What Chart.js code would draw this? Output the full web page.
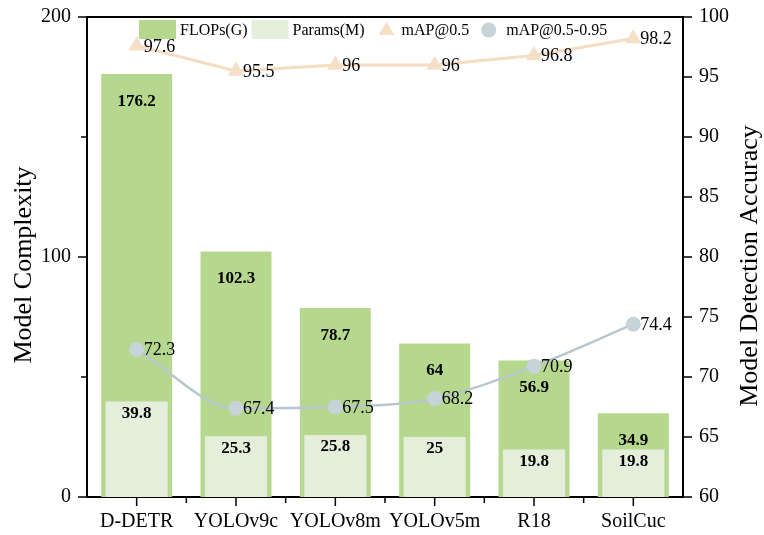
<!DOCTYPE html>
<html>
<head>
<meta charset="utf-8">
<script src="https://cdn.jsdelivr.net/npm/chart.js@4.4.1/dist/chart.umd.min.js"></script>
<style>
  html, body { margin: 0; padding: 0; background: #ffffff; }
  #wrap { width: 764px; height: 535px; }
</style>
</head>
<body>
<div id="wrap"><canvas id="c" width="764" height="535"></canvas></div>
<script>
// Model comparison: complexity (bars, left axis) and detection accuracy (lines, right axis)
const models = ['D-DETR', 'YOLOv9c', 'YOLOv8m', 'YOLOv5m', 'R18', 'SoilCuc'];
const flops = [176.2, 102.3, 78.7, 64, 56.9, 34.9];
const params = [39.8, 25.3, 25.8, 25, 19.8, 19.8];
const map50 = [97.6, 95.5, 96, 96, 96.8, 98.2];
const map5095 = [72.3, 67.4, 67.5, 68.2, 70.9, 74.4];
const complexityTicks = [0, 100, 200];
const complexityMinorTicks = [50, 150];
const accuracyTicks = [60, 65, 70, 75, 80, 85, 90, 95, 100];

const SERIF = "'Liberation Serif', 'Times New Roman', serif";
const INK = '#000000';

const decor = {
  id: 'decor',
  afterDatasetsDraw(chart) {
    const ctx = chart.ctx;
    ctx.save();
    ctx.fillStyle = INK;
    ctx.textBaseline = 'middle';
    // value labels inside the bars
    ctx.font = 'bold 17px ' + SERIF;
    ctx.textAlign = 'center';
    chart.data.datasets.forEach((ds, di) => {
      if (ds.type !== 'bar') return;
      const meta = chart.getDatasetMeta(di);
      const drop = ds.labelDrop;
      meta.data.forEach((el, i) => {
        ctx.fillText(String(ds.data[i]), el.x, el.y + drop);
      });
    });
    // value labels next to the line points
    ctx.font = '18px ' + SERIF;
    ctx.textAlign = 'left';
    chart.data.datasets.forEach((ds, di) => {
      if (ds.type !== 'line') return;
      const meta = chart.getDatasetMeta(di);
      meta.data.forEach((el, i) => {
        ctx.fillText(String(ds.data[i]), el.x + 7, el.y + 1);
      });
    });
    ctx.restore();
  },
  afterDraw(chart) {
    const ctx = chart.ctx;
    const a = chart.chartArea;
    const y = chart.scales.y, y1 = chart.scales.y1, x = chart.scales.x;
    ctx.save();
    ctx.strokeStyle = INK;
    ctx.lineWidth = 2;
    // top frame line
    ctx.beginPath();
    ctx.moveTo(a.left - 1, a.top);
    ctx.lineTo(a.right + 1, a.top);
    ctx.stroke();
    // tick marks
    ctx.lineWidth = 1.5;
    ctx.beginPath();
    complexityTicks.forEach(v => { const p = y.getPixelForValue(v); ctx.moveTo(a.left - 9, p); ctx.lineTo(a.left, p); });
    complexityMinorTicks.forEach(v => { const p = y.getPixelForValue(v); ctx.moveTo(a.left - 6, p); ctx.lineTo(a.left, p); });
    accuracyTicks.forEach(v => { const p = y1.getPixelForValue(v); ctx.moveTo(a.right, p); ctx.lineTo(a.right + 9, p); });
    models.forEach((m, i) => {
      const p = x.getPixelForValue(i);
      ctx.moveTo(p, a.bottom); ctx.lineTo(p, a.bottom + 9);
    });
    const step = (a.right - a.left) / models.length;
    for (let i = 1; i < models.length; i++) {
      const p = a.left + step * i;
      ctx.moveTo(p, a.bottom); ctx.lineTo(p, a.bottom + 6);
    }
    ctx.stroke();

    // axis titles
    ctx.fillStyle = INK;
    ctx.font = '26px ' + SERIF;
    ctx.textAlign = 'center';
    ctx.textBaseline = 'middle';
    ctx.save();
    ctx.translate(24, 265);
    ctx.rotate(-Math.PI / 2);
    ctx.fillText('Model Complexity', 0, 0);
    ctx.restore();
    ctx.save();
    ctx.translate(750, 266);
    ctx.rotate(-Math.PI / 2);
    ctx.fillText('Model Detection Accuracy', 0, 0);
    ctx.restore();

    // legend
    const ds = chart.data.datasets;
    const ly = 30;
    let lx = 139;
    ctx.font = '16px ' + SERIF;
    ctx.textAlign = 'left';
    ctx.textBaseline = 'middle';
    // bar entries
    [0, 1].forEach(di => {
      ctx.fillStyle = ds[di].backgroundColor;
      ctx.fillRect(lx, ly - 10, 37, 19);
      lx += 41;
      ctx.fillStyle = INK;
      ctx.fillText(ds[di].label, lx, ly + 1);
      lx += ctx.measureText(ds[di].label).width + (di === 0 ? 4 : 14);
    });
    // triangle entry
    ctx.fillStyle = ds[2].pointBackgroundColor;
    ctx.beginPath();
    ctx.moveTo(lx + 8, ly - 8);
    ctx.lineTo(lx + 16, ly + 5);
    ctx.lineTo(lx, ly + 5);
    ctx.closePath();
    ctx.fill();
    lx += 23;
    ctx.fillStyle = INK;
    ctx.fillText(ds[2].label, lx, ly + 1);
    lx += ctx.measureText(ds[2].label).width + 12;
    // circle entry
    ctx.fillStyle = ds[3].pointBackgroundColor;
    ctx.beginPath();
    ctx.arc(lx + 7.5, ly, 7.5, 0, Math.PI * 2);
    ctx.fill();
    lx += 25;
    ctx.fillStyle = INK;
    ctx.fillText(ds[3].label, lx, ly + 1);
    ctx.restore();
  }
};

// vertical axes: no extra room reserved for the end tick labels
const noEndPadding = s => { s.paddingTop = 0; s.paddingBottom = 0; };

const chart = new Chart(document.getElementById('c'), {
  data: {
    labels: models,
    datasets: [
      {
        type: 'bar', label: 'FLOPs(G)', data: flops, yAxisID: 'y',
        backgroundColor: '#b6d78e', borderWidth: 0,
        grouped: false, categoryPercentage: 1, barPercentage: 0.715,
        order: 4, labelDrop: 27
      },
      {
        type: 'bar', label: 'Params(M)', data: params, yAxisID: 'y',
        backgroundColor: '#e4eedb', borderWidth: 0,
        grouped: false, categoryPercentage: 1, barPercentage: 0.625,
        order: 3, labelDrop: 12
      },
      {
        type: 'line', label: 'mAP@0.5', data: map50, yAxisID: 'y1',
        borderColor: '#f5dcc2', borderWidth: 3,
        pointStyle: 'triangle', pointRadius: 9.5, pointHoverRadius: 9.5,
        pointBackgroundColor: '#f6dfc7', pointBorderWidth: 0,
        tension: 0, order: 2
      },
      {
        type: 'line', label: 'mAP@0.5-0.95', data: map5095, yAxisID: 'y1',
        borderColor: '#b8c7cf', borderWidth: 2.5,
        pointStyle: 'circle', pointRadius: 7.5, pointHoverRadius: 7.5,
        pointBackgroundColor: '#c6d3d9', pointBorderWidth: 0,
        cubicInterpolationMode: 'monotone', order: 1
      }
    ]
  },
  options: {
    responsive: false,
    animation: false,
    devicePixelRatio: 1,
    layout: { padding: { top: 17, left: 0, right: 0, bottom: 0 } },
    plugins: { legend: { display: false }, tooltip: { enabled: false } },
    scales: {
      x: {
        offset: true,
        grid: { display: false, drawTicks: false },
        border: { display: true, color: INK, width: 2 },
        ticks: { color: INK, font: { family: SERIF, size: 20 }, padding: 13, maxRotation: 0 },
        afterFit: s => { s.height = 38; s.paddingLeft = 0; s.paddingRight = 0; }
      },
      y: {
        position: 'left', min: 0, max: 200,
        grid: { display: false, drawTicks: false },
        border: { display: true, color: INK, width: 2 },
        afterBuildTicks: s => { s.ticks = complexityTicks.map(v => ({ value: v })); },
        ticks: { color: INK, font: { family: SERIF, size: 20 }, padding: 16 },
        afterFit: s => { s.width = 87; noEndPadding(s); }
      },
      y1: {
        position: 'right', min: 60, max: 100,
        grid: { display: false, drawTicks: false },
        border: { display: true, color: INK, width: 2 },
        afterBuildTicks: s => { s.ticks = accuracyTicks.map(v => ({ value: v })); },
        ticks: { color: INK, font: { family: SERIF, size: 20 }, padding: 16 },
        afterFit: s => { s.width = 81; noEndPadding(s); }
      }
    }
  },
  plugins: [decor]
});
</script>
</body>
</html>
